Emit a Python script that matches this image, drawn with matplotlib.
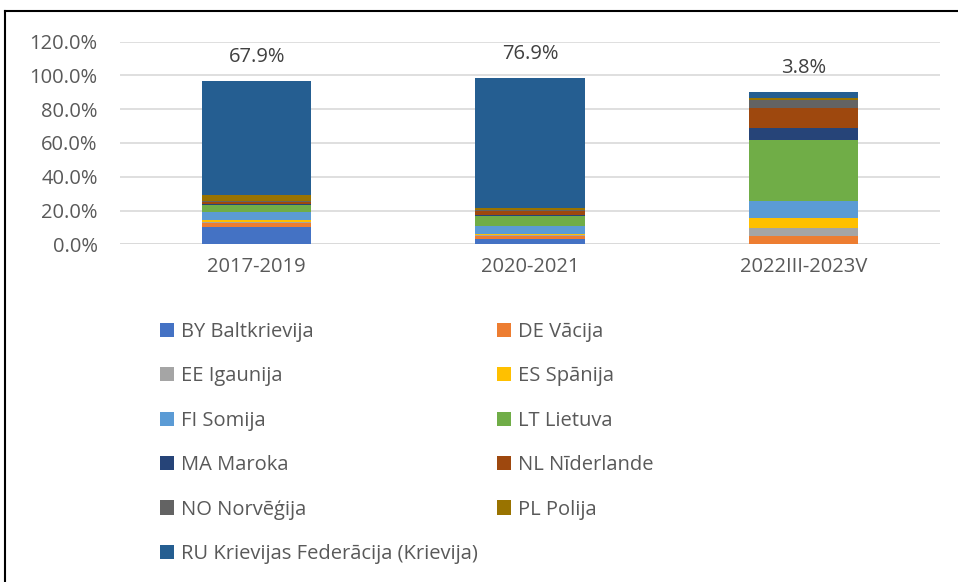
import numpy as np
import matplotlib.pyplot as plt
from matplotlib.patches import Patch
from matplotlib.lines import Line2D

plt.rcParams['font.family'] = ['Open Sans', 'DejaVu Sans']

periods = ['2017-2019', '2020-2021', '2022III-2023V']
countries = ['BY Baltkrievija', 'DE Vācija', 'EE Igaunija', 'ES Spānija', 'FI Somija',
             'LT Lietuva', 'MA Maroka', 'NL Nīderlande', 'NO Norvēģija', 'PL Polija',
             'RU Krievijas Federācija (Krievija)']
colors = ['#4472C4', '#ED7D31', '#A5A5A5', '#FFC000', '#5B9BD5', '#70AD47',
          '#264478', '#9E480E', '#636363', '#997300', '#255E91']

# shares in %, per country, for the three periods
BY = [10.0, 2.9, 0.0]
DE = [2.5, 1.8, 4.9]
EE = [0.6, 1.0, 4.9]
ES = [1.2, 0.3, 5.5]
FI = [4.9, 5.1, 10.2]
LT = [4.3, 5.9, 36.3]
MA = [0.3, 0.1, 7.1]
NL = [1.2, 2.9, 11.6]
NO = [0.5, 0.3, 4.7]
PL = [3.5, 1.2, 1.2]
RU = [67.9, 76.9, 3.8]
series = [BY, DE, EE, ES, FI, LT, MA, NL, NO, PL, RU]

fs = 14.5
fig = plt.figure(figsize=(9.58, 5.82), dpi=100)
W, H = 958, 582
ax = fig.add_axes([120 / W, 1 - 244.3 / H, 820 / W, (244.3 - 41.7) / H])

x = np.arange(len(periods))
bottom = np.zeros(len(periods))
for vals, c in zip(series, colors):
    ax.bar(x, vals, 0.4, bottom=bottom, color=c)
    bottom += np.array(vals)

for i in range(len(periods)):
    ax.annotate(f'{RU[i]:.1f}%', (x[i], bottom[i]), xytext=(0, 24), textcoords='offset pixels',
                ha='center', va='center', fontsize=fs, color='#404040')

ax.set_xlim(-0.5, 2.5)
ax.set_ylim(0, 120)
ax.set_yticks(np.arange(0, 121, 20))
ax.set_yticklabels([f'{v:.1f}%' for v in range(0, 121, 20)])
ax.set_xticks(x)
ax.set_xticklabels(periods)
ax.tick_params(length=0, labelsize=fs, labelcolor='#595959')
ax.tick_params(axis='y', pad=16)
ax.tick_params(axis='x', pad=9)
ax.grid(axis='y', color='#D9D9D9', linewidth=1.2)
ax.set_axisbelow(True)
for s in ax.spines.values():
    s.set_visible(False)
ax.axhline(0, color='#D9D9D9', linewidth=1.2, zorder=0.5)

# legend filled row by row like the original (matplotlib fills columns)
order = [0, 2, 4, 6, 8, 10, 1, 3, 5, 7, 9]
handles = [Patch(facecolor=colors[k], label=countries[k]) for k in order]
fig.legend(handles=handles, ncol=2, loc='upper left', bbox_to_anchor=(150 / W, 1 - 312 / H),
           frameon=False, fontsize=fs, labelcolor='#595959', handlelength=0.7, handleheight=0.7,
           handletextpad=0.35, columnspacing=0.95, labelspacing=1.21, borderpad=0)

# outer frame (top and left edges visible)
fig.add_artist(Line2D([5 / W, 5 / W], [0, 1 - 11 / H], color='black', linewidth=1.5))
fig.add_artist(Line2D([5 / W, 1], [1 - 11 / H, 1 - 11 / H], color='black', linewidth=1.5))

fig.savefig('out.png', dpi=100)
